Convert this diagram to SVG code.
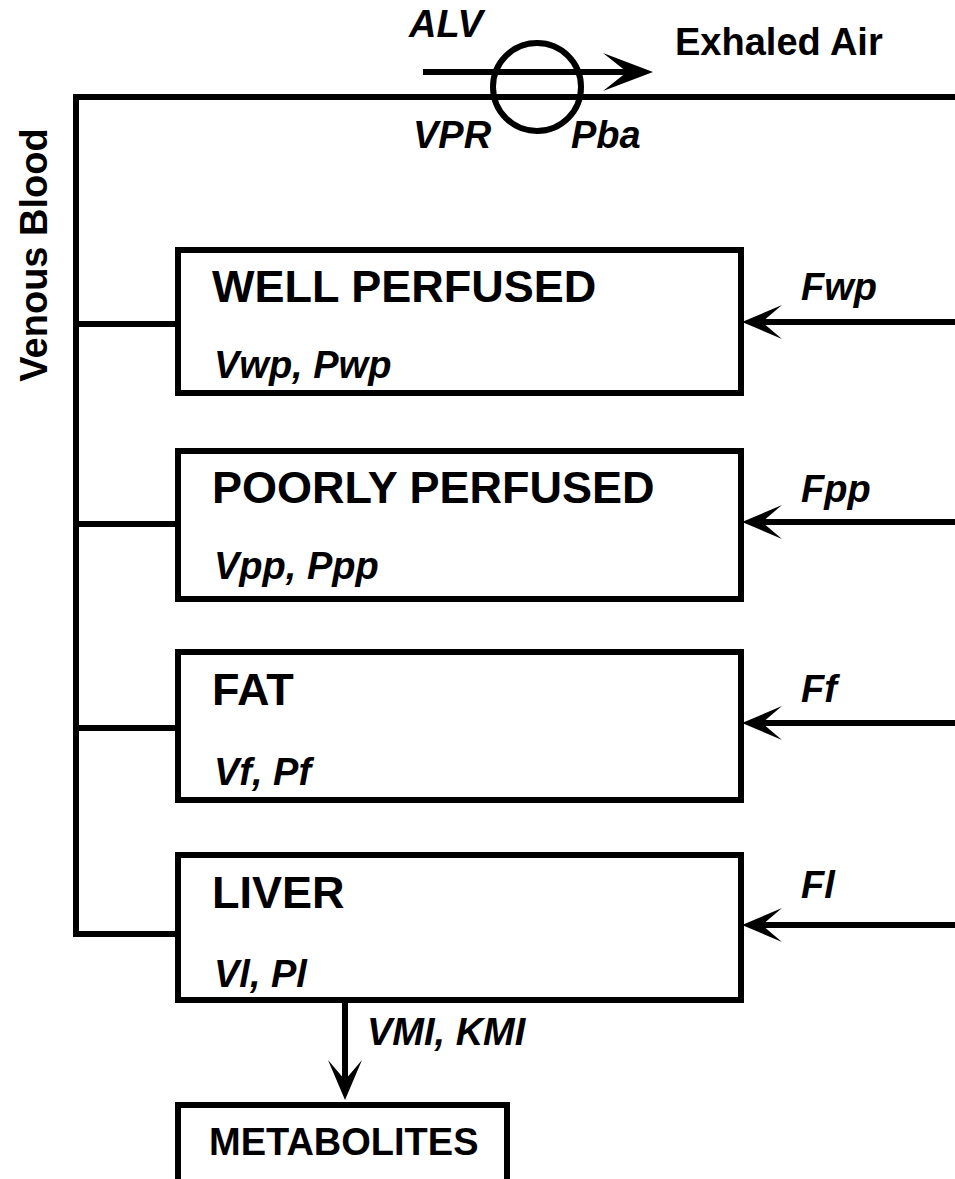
<svg xmlns="http://www.w3.org/2000/svg" xmlns:xlink="http://www.w3.org/1999/xlink" width="955" height="1179" viewBox="0 0 955 1179">
<style>
  .ln { stroke: #000; stroke-width: 6; fill: none; }
  .box { stroke: #000; stroke-width: 6; fill: #fff; }
  .t { font-family: "Liberation Sans", Arial, Helvetica, sans-serif; font-weight: bold; fill: #000; }
  .big { font-size: 45px; }
  .sm { font-size: 38px; }
  .it { font-style: italic; }
  .ah { fill: #000; stroke: none; }
</style>
<defs>
  <path id="ah" class="ah" d="M0,0 L-40,-17 L-20,0 L-40,17 Z"/>
  <path id="ahBig" class="ah" d="M0,0 L-50,-19 L-26,0 L-50,19 Z"/>
</defs>
<rect width="955" height="1179" fill="#fff"/>

<g id="connectors">
  <path class="ln" d="M955,97 H76 V934 H178"/>
  <path class="ln" d="M76,324 H178"/>
  <path class="ln" d="M76,524 H178"/>
  <path class="ln" d="M76,728 H178"/>
  <path class="ln" d="M423,72 H630"/>
  <use xlink:href="#ahBig" transform="translate(653,72)"/>
  <path class="ln" d="M955,322 H760"/>
  <use xlink:href="#ah" transform="translate(742,322) rotate(180)"/>
  <path class="ln" d="M955,522 H760"/>
  <use xlink:href="#ah" transform="translate(742,522) rotate(180)"/>
  <path class="ln" d="M955,723 H760"/>
  <use xlink:href="#ah" transform="translate(742,723) rotate(180)"/>
  <path class="ln" d="M955,925 H760"/>
  <use xlink:href="#ah" transform="translate(742,925) rotate(180)"/>
  <path class="ln" d="M345,1000 V1080"/>
  <use xlink:href="#ah" transform="translate(345,1100) rotate(90)"/>
  <text class="t sm it" x="409" y="37">ALV</text>
  <text class="t sm" x="675" y="55">Exhaled Air</text>
  <text class="t sm it" x="413" y="148">VPR</text>
  <text class="t sm it" x="571" y="148">Pba</text>
  <text class="t sm" transform="translate(47,255) rotate(-90)" text-anchor="middle">Venous Blood</text>
  <text class="t sm it" x="801" y="300">Fwp</text>
  <text class="t sm it" x="801" y="502">Fpp</text>
  <text class="t sm it" x="801" y="702">Ff</text>
  <text class="t sm it" x="801" y="898">Fl</text>
  <text class="t sm it" x="367" y="1045">VMI, KMI</text>
</g>

<g id="lung">
  <circle class="ln" cx="537" cy="87" r="44"/>
</g>

<g id="well-perfused">
  <rect class="box" x="178" y="250" width="563" height="143"/>
  <text class="t big" x="212" y="302">WELL PERFUSED</text>
  <text class="t sm it" x="214" y="378">Vwp, Pwp</text>
</g>

<g id="poorly-perfused">
  <rect class="box" x="178" y="451" width="563" height="148"/>
  <text class="t big" x="212" y="503">POORLY PERFUSED</text>
  <text class="t sm it" x="214" y="579">Vpp, Ppp</text>
</g>

<g id="fat">
  <rect class="box" x="178" y="652" width="563" height="148"/>
  <text class="t big" x="212" y="705">FAT</text>
  <text class="t sm it" x="214" y="785">Vf, Pf</text>
</g>

<g id="liver">
  <rect class="box" x="178" y="855" width="563" height="145"/>
  <text class="t big" x="212" y="908">LIVER</text>
  <text class="t sm it" x="214" y="987">Vl, Pl</text>
</g>

<g id="metabolites">
  <rect class="box" x="178" y="1105" width="329" height="100"/>
  <text class="t sm" x="209" y="1155">METABOLITES</text>
</g>
</svg>
